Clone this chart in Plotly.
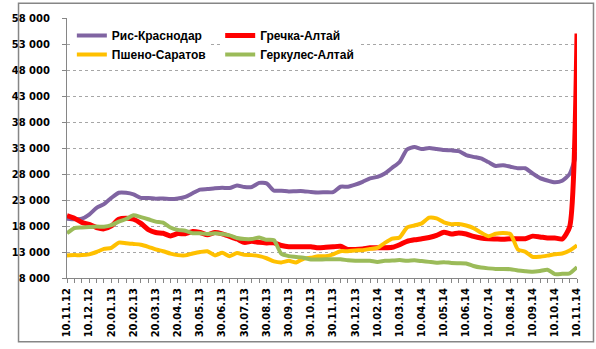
import plotly.graph_objects as go

date_labels = ["10.11.12", "10.12.12", "20.01.13", "20.02.13", "20.03.13", "20.04.13",
               "30.05.13", "30.06.13", "30.07.13", "30.08.13", "30.09.13", "30.10.13",
               "30.11.13", "30.12.13", "10.02.14", "10.03.14", "10.04.14", "10.05.14",
               "10.06.14", "10.07.14", "10.08.14", "10.09.14", "10.10.14", "10.11.14"]

ris = [19400, 19300, 19400, 20200, 21500, 22200, 23400, 24400, 24400, 24100,
       23400, 23400, 23250, 23300, 23200, 23300, 23600, 24300, 25000, 25100,
       25250, 25350, 25300, 25800, 25500, 25500, 26300, 26200, 24800, 24800,
       24650, 24700, 24700, 24550, 24450, 24500, 24500, 25550, 25550, 25950,
       26500, 27150, 27450, 28100, 29200, 30300, 32700, 33200, 32800, 33000,
       32800, 32600, 32550, 32400, 31650, 31300, 31000, 30300, 29550, 29700,
       29400, 29100, 29100, 28100, 27200, 26750, 26400, 26700, 28000, 32200]

grechka = [20000, 19500, 18700, 18300, 17700, 17450, 18000, 19300, 19500, 19300,
           18500, 17300, 16750, 16600, 16100, 16550, 16500, 16950, 16750, 16300,
           16750, 16500, 16000, 15500, 14850, 15050, 14850, 14750, 14750, 14250,
           14000, 14000, 14000, 14000, 13800, 13900, 14000, 14100, 13500, 13500,
           13600, 13800, 13800, 13800, 13900, 14400, 15050, 15350, 15550, 15800,
           16200, 16800, 16450, 16650, 16450, 16000, 15700, 15550, 15500, 15450,
           15550, 15550, 15550, 16050, 15900, 15700, 15700, 15500, 17800, 55000]

psheno = [12350, 12400, 12400, 12550, 13000, 13600, 13800, 14800, 14700, 14550,
          14400, 14000, 13500, 13150, 12700, 12400, 12350, 12700, 13000, 13150,
          12350, 12850, 12200, 12800, 12450, 12400, 12200, 11800, 11200, 11000,
          11300, 11000, 11700, 11900, 12200, 12200, 12550, 13150, 13150, 13300,
          13350, 13600, 13800, 14750, 15550, 15800, 17700, 18100, 18500, 19600,
          19450, 18700, 18350, 18400, 18100, 17600, 16750, 16050, 16500, 16650,
          16450, 13500, 13050, 12050, 12100, 12300, 12550, 12700, 13300, 14300]

gerkules = [16600, 17600, 17700, 17800, 17900, 17850, 18150, 18850, 19350, 20050,
            19700, 19300, 18850, 18650, 17700, 17250, 17100, 16600, 16600, 16450,
            16600, 16450, 16200, 15700, 15500, 15500, 15800, 15350, 15250, 12650,
            12200, 12050, 11900, 11550, 11550, 11600, 11600, 11600, 11400, 11300,
            11300, 11300, 11100, 11300, 11350, 11450, 11300, 11400, 11250, 11100,
            10950, 11050, 10900, 10850, 10800, 10300, 10000, 9850, 9750, 9750,
            9700, 9450, 9300, 9200, 9350, 9600, 8750, 8800, 8900, 10100]

n = len(ris)
x = list(range(n))
ticktext = [date_labels[i // 3] if i % 3 == 0 else "" for i in range(n)]

FONT = "DejaVu Sans"
GRAY = "#868686"

fig = go.Figure()
series = [
    ("Рис-Краснодар", ris, "#8064A2", 4, "legend"),
    ("Гречка-Алтай", grechka, "#FF0000", 5, "legend2"),
    ("Пшено-Саратов", psheno, "#FFC000", 4, "legend"),
    ("Геркулес-Алтай", gerkules, "#9BBB59", 4, "legend2"),
]
for name, vals, col, w, lg in series:
    fig.add_trace(go.Scatter(x=x, y=vals, name=name, mode="lines",
                             line=dict(color=col, width=w, shape="spline", smoothing=0.6),
                             legend=lg))

L, R, T, B = 51, 19, 16, 68
W, H = 596, 349
pw, ph = W - L - R, H - T - B

legend_font = dict(family="Liberation Sans", size=12, color="black", weight="bold")
fig.update_layout(
    width=W, height=H,
    margin=dict(l=L, r=R, t=T, b=B, pad=0),
    paper_bgcolor="white", plot_bgcolor="white",
    separators=", ",
    font=dict(family=FONT, color="black"),
    legend=dict(x=(56 - L) / pw, y=1 - (19 - T) / ph, xanchor="left", yanchor="top",
                bgcolor="white", font=legend_font, tracegroupgap=0),
    legend2=dict(x=(209 - L) / pw, y=1 - (19 - T) / ph, xanchor="left", yanchor="top",
                 bgcolor="white", font=legend_font, tracegroupgap=0),
    xaxis=dict(range=[0, n - 1], tickmode="array", tickvals=x, ticktext=ticktext,
               tickangle=-90, ticks="outside", ticklen=4, tickcolor=GRAY,
               showgrid=False, showline=True, linecolor=GRAY, linewidth=1,
               zeroline=False, ticklabelstandoff=1,
               tickfont=dict(family=FONT, size=10, color="black", weight="bold")),
    yaxis=dict(range=[8000, 58000], tick0=8000, dtick=5000, tickformat=",d",
               ticks="outside", ticklen=4, tickcolor=GRAY,
               showgrid=True, gridcolor="#a6a6a6", griddash="dot", gridwidth=1,
               showline=True, linecolor=GRAY, linewidth=1, zeroline=False,
               ticklabelstandoff=10,
               tickfont=dict(family=FONT, size=10, color="black", weight="bold")),
    shapes=[dict(type="rect", xref="paper", yref="paper",
                 x0=-(L - 1) / pw, x1=1 + (R - 2) / pw,
                 y0=-(B - 3) / ph, y1=1 + (T - 1) / ph,
                 line=dict(color=GRAY, width=1.5), layer="above")],
)

fig.write_html("out.html")
